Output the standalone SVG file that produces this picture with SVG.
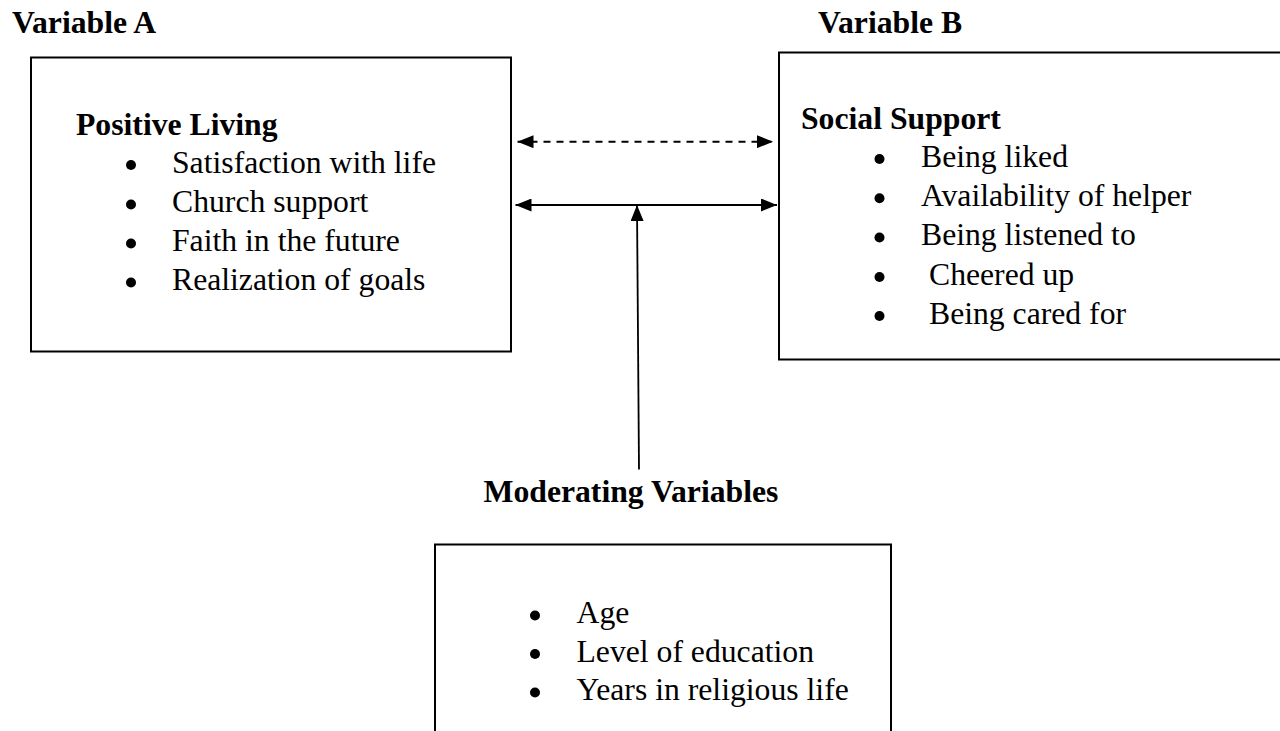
<svg xmlns="http://www.w3.org/2000/svg" width="1280" height="731" viewBox="0 0 1280 731">
<defs>
<style>
.box{fill:none;stroke:#000;stroke-width:2}
.t{font-family:"Liberation Serif","Times New Roman",serif;font-size:31.7px;fill:#000}
.b{font-weight:bold}
.ln{stroke:#000;stroke-width:1.8;fill:none}
.dash{stroke-dasharray:7 6;stroke-width:2}
.dot{fill:#000}
</style>
<marker id="ah" viewBox="0 0 16 13" refX="16" refY="6.5" markerWidth="16" markerHeight="13" markerUnits="userSpaceOnUse" orient="auto-start-reverse">
<path d="M0,0 L16,6.5 L0,13 Z" fill="#000"/>
</marker>
</defs>
<rect width="1280" height="731" fill="#fff"/>
<text class="t b" x="12" y="33">Variable A</text>
<text class="t b" x="818" y="33">Variable B</text>
<g id="nodeA">
<rect class="box" x="31" y="57.5" width="480" height="294"/>
<text class="t b" x="76" y="135">Positive Living</text>
<circle class="dot" cx="131" cy="165" r="5"/>
<circle class="dot" cx="131" cy="204.5" r="5"/>
<circle class="dot" cx="131" cy="243.5" r="5"/>
<circle class="dot" cx="131" cy="282.5" r="5"/>
<text class="t" x="172" y="172.7">Satisfaction with life</text>
<text class="t" x="172" y="212">Church support</text>
<text class="t" x="172" y="251.3">Faith in the future</text>
<text class="t" x="172" y="290">Realization of goals</text>
</g>
<g id="nodeB">
<path class="box" d="M1282,52.5 L779,52.5 L779,359.5 L1282,359.5"/>
<text class="t b" x="801" y="128.5">Social Support</text>
<circle class="dot" cx="879.5" cy="159" r="5"/>
<circle class="dot" cx="879.5" cy="198.3" r="5"/>
<circle class="dot" cx="879.5" cy="237.5" r="5"/>
<circle class="dot" cx="879.5" cy="277" r="5"/>
<circle class="dot" cx="879.5" cy="316" r="5"/>
<text class="t" x="921" y="166.7">Being liked</text>
<text class="t" x="921" y="206">Availability of helper</text>
<text class="t" x="921" y="245.2">Being listened to</text>
<text class="t" x="929" y="284.5">Cheered up</text>
<text class="t" x="929" y="323.7">Being cared for</text>
</g>
<g id="nodeC">
<text class="t b" x="483.5" y="501.7">Moderating Variables</text>
<path class="box" d="M435,733 L435,544.5 L891,544.5 L891,733"/>
<circle class="dot" cx="535" cy="615.5" r="5"/>
<circle class="dot" cx="535" cy="654" r="5"/>
<circle class="dot" cx="535" cy="692.5" r="5"/>
<text class="t" x="576.5" y="623.3">Age</text>
<text class="t" x="576.5" y="661.7">Level of education</text>
<text class="t" x="576.5" y="700">Years in religious life</text>
</g>
<g id="connectors">
<line class="ln dash" x1="517.5" y1="141.7" x2="773" y2="141.7" marker-start="url(#ah)" marker-end="url(#ah)"/>
<line class="ln" x1="515.5" y1="205" x2="777" y2="205" marker-start="url(#ah)" marker-end="url(#ah)"/>
<line class="ln" x1="639" y1="469.5" x2="637" y2="205" marker-end="url(#ah)"/>
</g>
</svg>
